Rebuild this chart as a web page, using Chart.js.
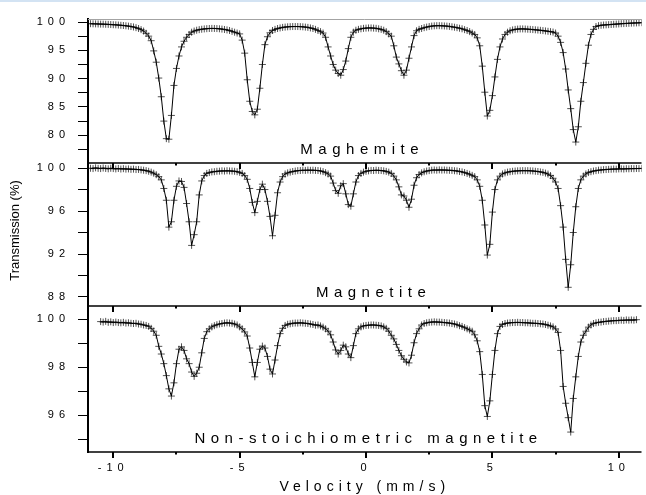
<!DOCTYPE html>
<html>
<head>
<meta charset="utf-8">
<title>Mossbauer spectra</title>
<script src="https://cdn.jsdelivr.net/npm/chart.js@4.4.1/dist/chart.umd.min.js"></script>
<style>
  html, body { margin: 0; padding: 0; background: #fff; }
  #spectra { display: block; }
</style>
</head>
<body>
<canvas id="spectra" width="646" height="495"></canvas>
<script>
// Velocity channels (mm/s)
const velocity = [
  -10.9, -10.8, -10.7, -10.6, -10.5, -10.4, -10.3, -10.2, -10.1, -10.0,
  -9.9, -9.8, -9.7, -9.6, -9.5, -9.4, -9.3, -9.2, -9.1, -9.0,
  -8.9, -8.8, -8.7, -8.6, -8.5, -8.4, -8.3, -8.2, -8.1, -8.0,
  -7.9, -7.8, -7.7, -7.6, -7.5, -7.4, -7.3, -7.2, -7.1, -7.0,
  -6.9, -6.8, -6.7, -6.6, -6.5, -6.4, -6.3, -6.2, -6.1, -6.0,
  -5.9, -5.8, -5.7, -5.6, -5.5, -5.4, -5.3, -5.2, -5.1, -5.0,
  -4.9, -4.8, -4.7, -4.6, -4.5, -4.4, -4.3, -4.2, -4.1, -4.0,
  -3.9, -3.8, -3.7, -3.6, -3.5, -3.4, -3.3, -3.2, -3.1, -3.0,
  -2.9, -2.8, -2.7, -2.6, -2.5, -2.4, -2.3, -2.2, -2.1, -2.0,
  -1.9, -1.8, -1.7, -1.6, -1.5, -1.4, -1.3, -1.2, -1.1, -1.0,
  -0.9, -0.8, -0.7, -0.6, -0.5, -0.4, -0.3, -0.2, -0.1, 0.0,
  0.1, 0.2, 0.3, 0.4, 0.5, 0.6, 0.7, 0.8, 0.9, 1.0,
  1.1, 1.2, 1.3, 1.4, 1.5, 1.6, 1.7, 1.8, 1.9, 2.0,
  2.1, 2.2, 2.3, 2.4, 2.5, 2.6, 2.7, 2.8, 2.9, 3.0,
  3.1, 3.2, 3.3, 3.4, 3.5, 3.6, 3.7, 3.8, 3.9, 4.0,
  4.1, 4.2, 4.3, 4.4, 4.5, 4.6, 4.7, 4.8, 4.9, 5.0,
  5.1, 5.2, 5.3, 5.4, 5.5, 5.6, 5.7, 5.8, 5.9, 6.0,
  6.1, 6.2, 6.3, 6.4, 6.5, 6.6, 6.7, 6.8, 6.9, 7.0,
  7.1, 7.2, 7.3, 7.4, 7.5, 7.6, 7.7, 7.8, 7.9, 8.0,
  8.1, 8.2, 8.3, 8.4, 8.5, 8.6, 8.7, 8.8, 8.9, 9.0,
  9.1, 9.2, 9.3, 9.4, 9.5, 9.6, 9.7, 9.8, 9.9, 10.0,
  10.1, 10.2, 10.3, 10.4, 10.5, 10.6, 10.7, 10.8, 10.9
];

// Transmission (%) per panel
const maghemite = [
  99.70, 99.68, 99.67, 99.65, 99.63, 99.62, 99.60, 99.58, 99.55, 99.52,
  99.50, 99.46, 99.42, 99.38, 99.33, 99.27, 99.20, 99.12, 99.00, 98.85,
  98.65, 98.40, 98.00, 97.50, 96.70, 94.90, 92.90, 90.10, 86.80, 82.50,
  79.40, 79.30, 83.50, 88.80, 91.80, 94.00, 95.60, 96.60, 97.30, 97.80,
  98.20, 98.40, 98.55, 98.65, 98.72, 98.78, 98.82, 98.85, 98.87, 98.86,
  98.84, 98.80, 98.75, 98.68, 98.60, 98.50, 98.35, 98.20, 98.05, 97.90,
  96.80, 94.50, 89.80, 86.00, 84.20, 83.60, 84.60, 88.30, 92.50, 96.00,
  97.40, 98.10, 98.50, 98.70, 98.85, 98.95, 99.05, 99.10, 99.15, 99.18,
  99.20, 99.20, 99.20, 99.18, 99.15, 99.10, 99.05, 98.95, 98.85, 98.70,
  98.50, 98.30, 98.05, 97.30, 95.60, 94.00, 92.50, 91.50, 90.90, 90.60,
  91.60, 93.10, 95.30, 97.30, 98.20, 98.55, 98.70, 98.80, 98.88, 98.92,
  98.95, 98.95, 98.92, 98.88, 98.80, 98.70, 98.55, 98.30, 97.90, 97.50,
  95.80, 93.80, 92.60, 91.40, 90.60, 91.50, 93.60, 95.60, 97.60, 98.45,
  98.70, 98.85, 99.00, 99.10, 99.20, 99.28, 99.32, 99.35, 99.35, 99.33,
  99.30, 99.27, 99.22, 99.15, 99.08, 99.00, 98.90, 98.80, 98.65, 98.50,
  98.30, 98.05, 97.80, 97.20, 95.80, 92.20, 87.60, 83.40, 84.40, 87.00,
  90.30, 93.40, 95.60, 97.00, 97.80, 98.20, 98.45, 98.60, 98.70, 98.75,
  98.78, 98.78, 98.76, 98.73, 98.70, 98.66, 98.62, 98.58, 98.53, 98.48,
  98.42, 98.36, 98.30, 98.22, 98.05, 97.50, 96.40, 94.60, 91.70, 88.00,
  84.70, 81.00, 78.80, 81.50, 86.00, 89.30, 92.70, 95.90, 97.80, 98.70,
  99.20, 99.35, 99.42, 99.47, 99.50, 99.53, 99.56, 99.60, 99.63, 99.66,
  99.70, 99.72, 99.75, 99.77, 99.80, 99.82, 99.84, 99.86, 99.88
];

const magnetite = [
  99.98, 99.95, 100.02, 99.97, 99.95, 100.00, 99.96, 99.93, 99.98, 99.95,
  99.92, 99.96, 99.91, 99.94, 99.90, 99.92, 99.88, 99.90, 99.86, 99.87,
  99.83, 99.80, 99.76, 99.70, 99.62, 99.52, 99.38, 99.20, 98.90, 98.10,
  97.00, 94.50, 95.00, 97.00, 98.30, 98.80, 98.75, 98.20, 96.70, 95.00,
  92.80, 93.80, 95.00, 97.50, 98.80, 99.30, 99.50, 99.58, 99.64, 99.66,
  99.70, 99.71, 99.74, 99.72, 99.75, 99.73, 99.72, 99.70, 99.66, 99.60,
  99.50, 99.30, 98.95, 98.10, 96.80, 95.85, 96.90, 98.00, 98.50, 98.00,
  96.90, 95.50, 93.70, 95.60, 97.70, 98.70, 99.20, 99.45, 99.55, 99.62,
  99.68, 99.72, 99.76, 99.77, 99.80, 99.78, 99.81, 99.79, 99.80, 99.78,
  99.77, 99.73, 99.67, 99.57, 99.45, 99.25, 98.60, 97.90, 97.65, 98.35,
  98.55, 97.60, 96.60, 96.45, 97.60, 98.70, 99.30, 99.50, 99.62, 99.70,
  99.74, 99.78, 99.77, 99.80, 99.78, 99.77, 99.74, 99.69, 99.62, 99.50,
  99.25, 98.90, 98.25, 97.50, 97.40, 97.00, 96.35, 97.10, 98.40, 99.10,
  99.40, 99.55, 99.65, 99.72, 99.76, 99.80, 99.82, 99.80, 99.83, 99.81,
  99.82, 99.80, 99.79, 99.78, 99.75, 99.73, 99.68, 99.64, 99.58, 99.50,
  99.42, 99.32, 99.20, 98.90, 98.30, 97.00, 94.70, 91.90, 92.90, 95.90,
  98.00, 98.90, 99.25, 99.45, 99.55, 99.62, 99.66, 99.70, 99.72, 99.74,
  99.75, 99.76, 99.75, 99.76, 99.74, 99.73, 99.70, 99.68, 99.64, 99.60,
  99.53, 99.44, 99.30, 99.05, 98.70, 98.10, 96.50, 94.50, 91.50, 88.90,
  91.00, 94.00, 96.40, 98.10, 98.90, 99.25, 99.45, 99.58, 99.66, 99.72,
  99.76, 99.80, 99.82, 99.85, 99.86, 99.88, 99.89, 99.91, 99.90, 99.92,
  99.93, 99.91, 99.94, 99.93, 99.95, 99.94, 99.96, 99.95, 99.97
];

const nonStoichiometric = [
  null, null, null, null, 99.90, 99.88, 99.91, 99.87, 99.89, 99.86,
  99.88, 99.86, 99.85, 99.87, 99.84, 99.85, 99.83, 99.82, 99.83, 99.80,
  99.79, 99.76, 99.74, 99.70, 99.62, 99.50, 99.33, 98.87, 98.55, 98.15,
  97.65, 97.10, 96.80, 97.35, 98.15, 98.75, 98.85, 98.70, 98.35, 98.15,
  97.80, 97.62, 97.75, 98.00, 98.60, 99.20, 99.48, 99.60, 99.68, 99.73,
  99.77, 99.80, 99.82, 99.84, 99.85, 99.84, 99.83, 99.80, 99.76, 99.68,
  99.60, 99.47, 99.30, 98.80, 98.20, 97.60, 98.20, 98.75, 98.88, 98.80,
  98.45, 97.92, 97.72, 98.30, 98.90, 99.40, 99.62, 99.74, 99.79, 99.81,
  99.83, 99.84, 99.84, 99.85, 99.84, 99.83, 99.82, 99.80, 99.78, 99.75,
  99.76, 99.72, 99.67, 99.60, 99.50, 99.35, 99.05, 98.72, 98.55, 98.70,
  98.92, 98.85, 98.55, 98.40, 98.90, 99.40, 99.60, 99.68, 99.72, 99.74,
  99.75, 99.76, 99.76, 99.75, 99.74, 99.72, 99.68, 99.62, 99.50, 99.33,
  99.18, 98.95, 98.70, 98.48, 98.33, 98.22, 98.18, 98.50, 99.02, 99.40,
  99.60, 99.76, 99.82, 99.85, 99.87, 99.88, 99.89, 99.88, 99.88, 99.87,
  99.86, 99.85, 99.84, 99.82, 99.80, 99.77, 99.73, 99.70, 99.65, 99.60,
  99.55, 99.50, 99.35, 99.10, 98.65, 97.70, 96.40, 95.95, 96.60, 97.70,
  98.70, 99.40, 99.70, 99.78, 99.82, 99.84, 99.85, 99.86, 99.86, 99.87,
  99.86, 99.86, 99.85, 99.85, 99.84, 99.83, 99.83, 99.82, 99.81, 99.80,
  99.78, 99.75, 99.72, 99.68, 99.60, 99.45, 98.70, 97.20, 96.50, 95.90,
  95.30, 96.70, 97.60, 98.45, 99.05, 99.33, 99.50, 99.67, 99.76, 99.82,
  99.85, 99.87, 99.88, 99.90, 99.91, 99.92, 99.93, 99.94, 99.94, 99.95,
  99.96, 99.95, 99.97, 99.96, 99.97, 99.96, 99.98, null, null
];

// Tick values
const xTicks = [-10, -7.5, -5, -2.5, 0, 2.5, 5, 7.5, 10];
const xLabelled = [-10, -5, 0, 5, 10];
const maghemiteTicks = [77.5, 80, 82.5, 85, 87.5, 90, 92.5, 95, 97.5, 100];
const maghemiteLabelled = [80, 85, 90, 95, 100];
const magnetiteTicks = [88, 90, 92, 94, 96, 98, 100];
const magnetiteLabelled = [88, 92, 96, 100];
const nonStoichTicks = [95, 96, 97, 98, 99, 100];
const nonStoichLabelled = [96, 98, 100];

const panelNames = ['Maghemite', 'Magnetite', 'Non-stoichiometric magnetite'];
const panelAxes = ['yA', 'yB', 'yC'];
const panelLabelAt = [-0.15, 0.3, 0.1]; // velocity where each panel name is centred

const FONT = "'Liberation Sans', Arial, Helvetica, sans-serif";
Chart.defaults.font.family = FONT;
Chart.defaults.color = '#000';

function spectrum(values, axisId) {
  return {
    data: velocity.map((v, i) => ({ x: v, y: values[i] })),
    yAxisID: axisId,
    showLine: true,
    borderColor: '#000',
    borderWidth: 1,
    tension: 0,
    pointStyle: 'cross',
    pointRadius: 3.5,
    pointHoverRadius: 3.5,
    pointBorderWidth: 1,
    pointBorderColor: 'rgba(0,0,0,0.68)',
    spanGaps: false
  };
}

function yAxis(min, max, ticks, labelled, weight) {
  return {
    type: 'linear',
    position: 'left',
    stack: 'panels',
    stackWeight: weight,
    min: min,
    max: max,
    afterBuildTicks: s => { s.ticks = ticks.map(v => ({ value: v })); },
    afterFit: s => { s.width = 88; },
    grid: { display: true, drawOnChartArea: false, drawTicks: true, tickLength: 10, tickWidth: 1, tickColor: '#000' },
    border: { display: true, color: '#000', width: 2 },
    ticks: {
      autoSkip: false,
      padding: 8,
      color: '#000',
      font: { size: 11 },
      callback: v => labelled.includes(v) ? String(v) : ''
    }
  };
}

// extra drawing: frame lines, panel separators with ticks, names, y title
const panelFrame = {
  id: 'panelFrame',
  beforeDraw(chart) {
    chart.ctx.letterSpacing = '5px';
  },
  beforeDatasetsDraw(chart) {
    chart.ctx.letterSpacing = '0px';
  },
  afterDraw(chart) {
    const { ctx, chartArea: area, scales } = chart;
    const xs = scales.x;
    ctx.save();
    ctx.letterSpacing = '0px';

    // thin page edge at the very top
    ctx.fillStyle = '#d3e3f3';
    ctx.fillRect(0, 0, chart.width, 2);

    // grey top edge of the plot
    ctx.strokeStyle = '#a3a3a3';
    ctx.lineWidth = 1;
    ctx.beginPath();
    ctx.moveTo(area.left, area.top + 0.5);
    ctx.lineTo(area.right, area.top + 0.5);
    ctx.stroke();

    panelAxes.forEach((id, i) => {
      const ys = scales[id];
      const yb = Math.round(ys.bottom);
      ctx.strokeStyle = '#000';
      ctx.lineWidth = 1.5;
      ctx.beginPath();
      ctx.moveTo(area.left, yb);
      ctx.lineTo(area.right, yb);
      ctx.stroke();

      ctx.lineWidth = 2;
      xTicks.forEach(v => {
        const px = Math.round(xs.getPixelForValue(v));
        const len = xLabelled.includes(v) ? 6 : 2.5;
        ctx.beginPath();
        ctx.moveTo(px, yb);
        ctx.lineTo(px, yb + len);
        ctx.stroke();
      });

      // panel name
      ctx.save();
      ctx.font = '15px ' + FONT;
      ctx.letterSpacing = '5.5px';
      ctx.fillStyle = '#000';
      ctx.textAlign = 'center';
      ctx.textBaseline = 'alphabetic';
      ctx.fillText(panelNames[i], xs.getPixelForValue(panelLabelAt[i]), ys.bottom - 9);
      ctx.restore();
    });

    // y axis title, centred on the middle panel
    const mid = scales.yB;
    ctx.save();
    ctx.font = '13px ' + FONT;
    ctx.fillStyle = '#000';
    ctx.textAlign = 'center';
    ctx.textBaseline = 'middle';
    ctx.translate(15, (mid.top + mid.bottom) / 2 - 4);
    ctx.rotate(-Math.PI / 2);
    ctx.fillText('Transmission (%)', 0, 0);
    ctx.restore();

    ctx.restore();
  }
};

const ctx = document.getElementById('spectra').getContext('2d');
const spectraChart = new Chart(ctx, {
  type: 'line',
  data: {
    datasets: [
      spectrum(maghemite, 'yA'),
      spectrum(magnetite, 'yB'),
      spectrum(nonStoichiometric, 'yC')
    ]
  },
  options: {
    responsive: false,
    animation: false,
    devicePixelRatio: 1,
    events: [],
    layout: { padding: { top: 19, left: 0, right: 0, bottom: 0 } },
    plugins: { legend: { display: false }, tooltip: { enabled: false } },
    scales: {
      x: {
        type: 'linear',
        position: 'bottom',
        min: -11,
        max: 10.9,
        afterBuildTicks: s => { s.ticks = xTicks.map(v => ({ value: v })); },
        afterFit: s => { s.height = 43; },
        grid: { display: false },
        border: { display: false },
        ticks: {
          autoSkip: false,
          maxRotation: 0,
          padding: 1,
          color: '#000',
          font: { size: 11 },
          callback: v => xLabelled.includes(v) ? String(v) : ''
        },
        title: { display: true, text: 'Velocity (mm/s)', color: '#000', font: { size: 14 }, padding: { top: 0, bottom: -1 } }
      },
      yC: yAxis(94.47, 100.55, nonStoichTicks, nonStoichLabelled, 146),
      yB: yAxis(87.16, 100.47, magnetiteTicks, magnetiteLabelled, 143),
      yA: yAxis(75.1, 100.53, maghemiteTicks, maghemiteLabelled, 144)
    }
  },
  plugins: [panelFrame]
});
</script>
</body>
</html>
